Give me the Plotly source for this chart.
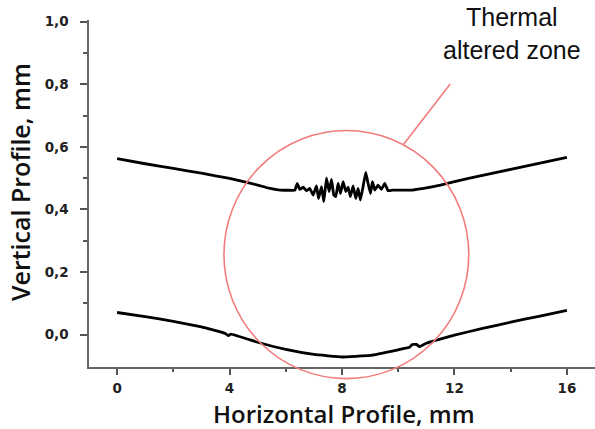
import plotly.graph_objects as go

# ---- data ----
upper_x = [0, 1, 2, 3, 4, 5, 5.4, 5.8, 6.324, 6.407, 6.501, 6.619, 6.738, 6.856, 6.974, 7.093,
           7.164, 7.270, 7.353, 7.448, 7.542, 7.625, 7.708, 7.779, 7.862, 7.945, 8.040, 8.135,
           8.218, 8.300, 8.395, 8.490, 8.572, 8.655, 8.750, 8.845, 8.928, 9.011, 9.082, 9.165,
           9.283, 9.402, 9.520, 9.638, 9.792, 10.5, 10.9, 11.5, 12, 13, 14, 15, 16]
upper_y = [0.562, 0.546, 0.531, 0.516, 0.499, 0.478, 0.468, 0.462, 0.462, 0.483, 0.464, 0.471,
           0.460, 0.467, 0.446, 0.475, 0.435, 0.473, 0.425, 0.500, 0.457, 0.496, 0.446, 0.441,
           0.483, 0.451, 0.489, 0.457, 0.471, 0.441, 0.475, 0.435, 0.467, 0.430, 0.473, 0.518,
           0.483, 0.451, 0.489, 0.462, 0.478, 0.464, 0.483, 0.460, 0.462, 0.462, 0.467, 0.478,
           0.489, 0.509, 0.528, 0.547, 0.566]

lower_x = [0, 1, 2, 3, 3.85, 3.95, 4.05, 5, 6, 7, 8, 9, 10, 10.4, 10.5, 10.65, 10.75, 11, 12,
           13, 14, 15, 16]
lower_y = [0.071, 0.058, 0.043, 0.025, 0.004, -0.003, 0.002, -0.024, -0.047, -0.063, -0.071,
           -0.066, -0.048, -0.040, -0.031, -0.031, -0.038, -0.027, -0.001, 0.020, 0.040, 0.059,
           0.078]

x_ticks = [0, 4, 8, 12, 16]
x_minor = [2, 6, 10, 14]
y_ticks = [0.0, 0.2, 0.4, 0.6, 0.8, 1.0]
y_minor = [0.1, 0.3, 0.5, 0.7, 0.9]

zone_x = [3.80, 12.51]     # circle extent (data units)
zone_y = [-0.140, 0.652]
pointer_x = [10.2, 11.85]
pointer_y = [0.609, 0.801]
zone_label = "Thermal<br>altered zone"

x_range = [-1.0, 17.0]
y_range = [-0.103, 1.005]

# ---- figure ----
fig = go.Figure()
for xs, ys in [(upper_x, upper_y), (lower_x, lower_y)]:
    fig.add_trace(go.Scatter(x=xs, y=ys, mode="lines",
                             line=dict(color="black", width=2.8, shape="spline", smoothing=0.25),
                             showlegend=False))

def px(v):
    return (v - x_range[0]) / (x_range[1] - x_range[0])

def py(v):
    return (v - y_range[0]) / (y_range[1] - y_range[0])

red = "#f27c7c"
fig.add_shape(type="circle", xref="paper", yref="paper",
              x0=px(zone_x[0]), x1=px(zone_x[1]), y0=py(zone_y[0]), y1=py(zone_y[1]),
              line=dict(color=red, width=1.6))
fig.add_shape(type="line", xref="x", yref="y",
              x0=pointer_x[0], x1=pointer_x[1], y0=pointer_y[0], y1=pointer_y[1],
              line=dict(color=red, width=1.6))

fig.add_annotation(text=zone_label, xref="paper", yref="paper", x=0.836, y=0.9625,
                   xanchor="center", yanchor="middle", showarrow=False,
                   font=dict(family="Liberation Sans, Arial", size=25, color="#111"))

title_font = dict(family="Open Sans", size=24, color="#111", weight=600)
fig.add_annotation(text="Horizontal Profile, mm", xref="paper", yref="paper",
                   x=0.504, y=0, yshift=-46, xanchor="center", yanchor="middle",
                   showarrow=False, font=title_font)
fig.add_annotation(text="Vertical Profile, mm", xref="paper", yref="paper",
                   x=0, xshift=-69, y=0.533, xanchor="center", yanchor="middle",
                   textangle=-90, showarrow=False,
                   font=dict(family="Open Sans", size=25, color="#111", weight=600))

tick_font = dict(family="DejaVu Sans", size=13.5, color="#222", weight="bold")
fig.update_xaxes(range=x_range, showgrid=False, zeroline=False, showline=True,
                 linecolor="#666", linewidth=1.5, ticks="outside", ticklen=6, tickwidth=1.5,
                 tickcolor="#555", tickmode="array", tickvals=x_ticks,
                 ticktext=[str(v) for v in x_ticks], tickfont=tick_font, ticklabelstandoff=2,
                 minor=dict(tickmode="array", tickvals=x_minor, ticks="outside", ticklen=3,
                            tickwidth=1.5, tickcolor="#555"))
fig.update_yaxes(range=y_range, showgrid=False, zeroline=False, showline=True,
                 linecolor="#666", linewidth=1.5, ticks="outside", ticklen=7, tickwidth=1.5,
                 tickcolor="#555", tickmode="array", tickvals=y_ticks,
                 ticktext=[f"{v:.1f}".replace(".", ",") for v in y_ticks], tickfont=tick_font,
                 ticklabelstandoff=9,
                 minor=dict(tickmode="array", tickvals=y_minor, ticks="outside", ticklen=4,
                            tickwidth=1.5, tickcolor="#555"))

fig.update_layout(width=595, height=429, margin=dict(l=89, r=0, t=20, b=62),
                  paper_bgcolor="white", plot_bgcolor="white")

fig.write_html("out.html")
